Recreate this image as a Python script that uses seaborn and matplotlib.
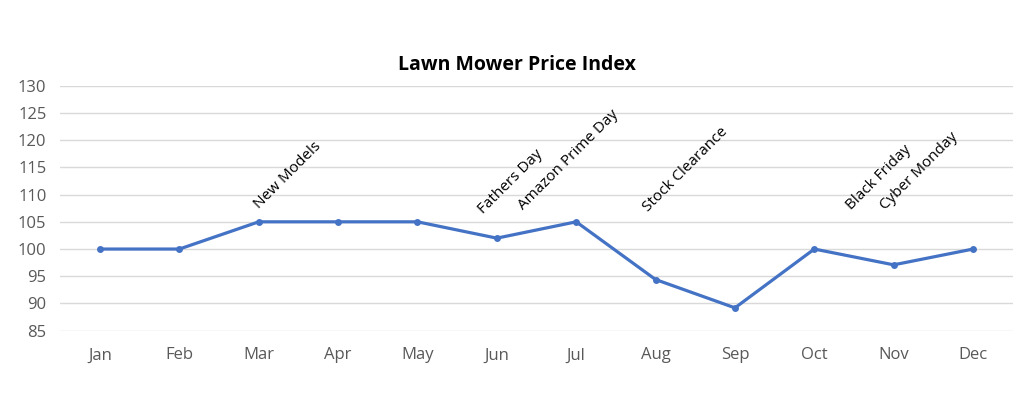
import matplotlib
matplotlib.use("Agg")
import matplotlib.pyplot as plt
import pandas as pd
import seaborn as sns

months = ["Jan", "Feb", "Mar", "Apr", "May", "Jun", "Jul", "Aug", "Sep", "Oct", "Nov", "Dec"]
price_index = [100, 100, 105, 105, 105, 102, 105, 94.4, 89.2, 100, 97.1, 100]
event_months = ["Mar", "Jun", "Jul", "Aug", "Nov", "Dec"]
event_labels = ["New Models", "Fathers Day", "Amazon Prime Day", "Stock Clearance", "Black Friday", "Cyber Monday"]

# label anchor (bottom-left of rotated text), shift in category units and height in data units
label_dx = [-0.10, -0.27, -0.77, -0.19, -0.63, -1.20]
label_y = [106.8, 105.9, 106.6, 106.3, 106.6, 106.6]

sns.set_style("white")
plt.rcParams["font.family"] = ["Open Sans", "DejaVu Sans"]

df = pd.DataFrame({"Month": months, "Price": price_index})

fig = plt.figure(figsize=(10.24, 4.18), dpi=100)
ax = fig.add_axes([0.0589, 0.2088, 0.9301, 0.5862])

sns.lineplot(data=df, x="Month", y="Price", ax=ax, color="#4472C4", linewidth=2.3,
             marker="o", markersize=5, markeredgewidth=0, sort=False)

ax.set_ylim(85, 130)
ax.set_yticks(range(85, 131, 5))
ax.set_xlim(-0.5, len(months) - 0.5)
ax.grid(axis="y", color="#D9D9D9", linewidth=1)
ax.set_axisbelow(True)
for s in ax.spines.values():
    s.set_visible(False)
ax.tick_params(axis="both", length=0, labelsize=12, labelcolor="#595959")
ax.tick_params(axis="y", pad=10)
ax.tick_params(axis="x", pad=12)
ax.set_xlabel("")
ax.set_ylabel("")

for m, text, dx, y in zip(event_months, event_labels, label_dx, label_y):
    ax.text(months.index(m) + dx, y, text, rotation=45, ha="left", va="bottom",
            fontsize=11, color="black")

fig.text(0.505, 0.845, "Lawn Mower Price Index", ha="center", va="center",
         fontsize=14, fontweight="bold", color="black")

fig.savefig("out.png", dpi=100, facecolor="w")
plt.close(fig)
